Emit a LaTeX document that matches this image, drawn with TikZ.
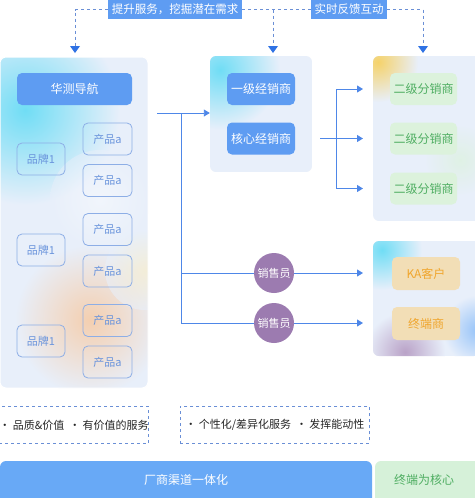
\documentclass[tikz,border=0pt]{standalone}
\usepackage{fontspec}
\setmainfont{Noto Sans CJK SC}
\usetikzlibrary{arrows.meta,positioning}
\definecolor{btnblue}{HTML}{5E9CF2}
\definecolor{arrowblue}{HTML}{2F72E4}
\definecolor{dashblue}{HTML}{6A8FD6}
\definecolor{panelbase}{HTML}{E8EFFA}
\definecolor{brandline}{HTML}{8DAEE6}
\definecolor{brandtext}{HTML}{6A94DC}
\definecolor{greenbox}{HTML}{DCF2DC}
\definecolor{greentext}{HTML}{4FAE62}
\definecolor{beige}{HTML}{F2DEB6}
\definecolor{orangetext}{HTML}{F0A62E}
\definecolor{purple}{HTML}{9C7BB0}
\definecolor{barblue}{HTML}{68A9F6}
\definecolor{bargreen}{HTML}{D6F1D9}
\definecolor{cyanblob}{HTML}{70DDF5}
\definecolor{peach}{HTML}{F4CFB0}
\definecolor{yelblob}{HTML}{F5D26A}
\tikzset{
  x=1pt,y=-1pt,
  panel/.style={rounded corners=6pt},
  bluebtn/.style={fill=btnblue,rounded corners=5pt,text=white,font=\fontsize{12}{14}\selectfont,minimum height=32pt,inner sep=0pt},
  brand/.style={draw=brandline,line width=0.8pt,rounded corners=5pt,text=brandtext,font=\fontsize{11}{13}\selectfont,minimum width=48pt,minimum height=32pt,inner sep=0pt},
  greenb/.style={fill=greenbox,rounded corners=5pt,text=greentext,font=\fontsize{12}{14}\selectfont,minimum width=67pt,minimum height=32pt,inner sep=0pt},
  beigeb/.style={fill=beige,rounded corners=5pt,text=orangetext,font=\fontsize{12}{14}\selectfont,minimum width=68pt,minimum height=33pt,inner sep=0pt},
  sales/.style={circle,fill=purple,text=white,font=\fontsize{11}{13}\selectfont,minimum size=40pt,inner sep=0pt},
  conn/.style={draw=arrowblue!85,line width=0.9pt},
  arr/.style={-{Triangle[width=7pt,length=6pt]}},
  dashln/.style={draw=dashblue,dashed,line width=0.8pt},
  toplabel/.style={fill=btnblue,text=white,font=\fontsize{11.5}{13}\selectfont,inner sep=0pt,minimum height=19pt},
  note/.style={draw=dashblue,dashed,line width=0.8pt,font=\fontsize{11}{13}\selectfont,text=black!85,inner sep=0pt,minimum height=37pt},
  tip/.style={fill=arrowblue}
}
\begin{document}
\begin{tikzpicture}
\useasboundingbox (0,0) rectangle (474,498);
\fill[white] (0,0) rectangle (474,498);

% ---------- left panel ----------
\begin{scope}
\path[panel,clip] (0,57) rectangle (148,388);
\fill[panelbase] (0,57) rectangle (148,388);
\shade[inner color=cyanblob,outer color=panelbase] (25,110) circle (95);
\shade[inner color=peach,outer color=panelbase] (90,320) circle (75);
\shade[inner color=yelblob!40,outer color=panelbase,opacity=0.6] (145,270) circle (40);
\shade[inner color=white!80!panelbase,outer color=panelbase,opacity=0.5] (100,200) circle (50);
\end{scope}
\draw[panel,white,line width=1pt] (0,57) rectangle (148,388);
\node (leftpanel) at (74,222.5) [minimum width=148pt,minimum height=331pt,inner sep=0pt] {};

\node[bluebtn,minimum width=115pt] (hc) at (74.5,89) {华测导航};
\node[brand] (b1) at (41,159) {品牌1};
\node[brand] (b2) at (41,250) {品牌1};
\node[brand] (b3) at (41,341) {品牌1};
\node[brand,minimum width=49pt] (p1) at (107.5,139) {产品a};
\node[brand,minimum width=49pt] (p2) at (107.5,180.5) {产品a};
\node[brand,minimum width=49pt] (p3) at (107.5,229.5) {产品a};
\node[brand,minimum width=49pt] (p4) at (107.5,271) {产品a};
\node[brand,minimum width=49pt] (p5) at (107.5,320.5) {产品a};
\node[brand,minimum width=49pt] (p6) at (107.5,362) {产品a};

% ---------- middle panel ----------
\begin{scope}
\path[panel,clip] (210,56) rectangle (312,172);
\fill[panelbase] (210,56) rectangle (312,172);
\shade[inner color=cyanblob,outer color=panelbase] (220,70) circle (60);
\end{scope}
\node (midpanel) at (261,114) [minimum width=102pt,minimum height=116pt,inner sep=0pt] {};
\node[bluebtn,minimum width=68pt] (d1) at (261,89) {一级经销商};
\node[bluebtn,minimum width=68pt] (d2) at (261,138.5) {核心经销商};

% ---------- right top panel ----------
\begin{scope}
\path[panel,clip] (373,56) rectangle (480,221);
\fill[panelbase] (373,56) rectangle (480,221);
\shade[inner color=yelblob,outer color=panelbase] (378,62) circle (40);
\shade[inner color=greenbox,outer color=panelbase,opacity=0.7] (460,160) circle (35);
\end{scope}
\node (rtpanel) at (423.5,138.5) [minimum width=101pt,minimum height=165pt,inner sep=0pt] {};
\node[greenb] (s1) at (423.5,89) {二级分销商};
\node[greenb] (s2) at (423.5,138.5) {二级分销商};
\node[greenb] (s3) at (423.5,188.5) {二级分销商};

% ---------- right bottom panel ----------
\begin{scope}
\path[panel,clip] (373,241) rectangle (480,356);
\fill[panelbase] (373,241) rectangle (480,356);
\shade[inner color=cyanblob,outer color=panelbase] (382,250) circle (40);
\shade[inner color=purple!70,outer color=panelbase] (405,352) circle (40);
\shade[inner color=barblue!70,outer color=panelbase] (478,330) circle (35);
\end{scope}
\node (rbpanel) at (423.5,298.5) [minimum width=101pt,minimum height=115pt,inner sep=0pt] {};
\node[beigeb] (ka) at (426,273.5) {KA客户};
\node[beigeb] (zd) at (426,323.5) {终端商};

% ---------- sales ----------
\node[sales] (sa1) at (274,273) {销售员};
\node[sales] (sa2) at (274,323) {销售员};

% ---------- connectors ----------
\coordinate (lstart) at (157,113);
\coordinate (lj) at (181,113);
\draw[conn,arr] (lstart) -- (lstart -| midpanel.west);
\draw[conn] (lj) -- (181,323);
\draw[conn] (181,273) -- (sa1.west);
\draw[conn,arr] (sa1.east) -- (363,273);
\draw[conn] (181,323) -- (sa2.west);
\draw[conn,arr] (sa2.east) -- (363,323);

\coordinate (mj) at (336,138.5);
\draw[conn] (320,138.5) -- (mj);
\draw[conn] (336,89) -- (336,188.5);
\draw[conn,arr] (336,89) -- (363,89);
\draw[conn,arr] (mj) -- (363,138.5);
\draw[conn,arr] (336,188.5) -- (363,188.5);

% ---------- top feedback ----------
\node[toplabel,minimum width=134pt] (t1) at (175,9.5) {提升服务，挖掘潜在需求};
\node[toplabel,minimum width=76pt] (t2) at (349,9.5) {实时反馈互动};
\draw[dashln] (t1.west) -- (75,9.5) -- (75,46);
\draw[dashln] (t1.east) -- (t2.west);
\draw[dashln] (273,9.5) -- (273,46);
\draw[dashln] (t2.east) -- (423,9.5) -- (423,46);
\fill[tip] (70,46) -- (80,46) -- (75,53) -- cycle;
\fill[tip] (268,46) -- (278,46) -- (273,53) -- cycle;
\fill[tip] (418,46) -- (428,46) -- (423,53) -- cycle;

% ---------- notes ----------
\node[note,minimum width=149pt,anchor=north west] (n1) at (-1,406) {· 品质\&价值 \ · 有价值的服务};
\node[note,minimum width=189pt,anchor=north west] (n2) at (180,406) {· 个性化/差异化服务 \ · 发挥能动性};

% ---------- bottom bar ----------
\fill[barblue,rounded corners=6pt] (0,461) rectangle (372,504);
\node[text=white,font=\fontsize{12}{14}\selectfont] (bar) at (186,479.5) {厂商渠道一体化};
\fill[bargreen,rounded corners=6pt] (375,461) rectangle (480,504);
\node[text=greentext,font=\fontsize{12}{14}\selectfont] (core) at (424,479.5) {终端为核心};
\end{tikzpicture}
\end{document}
